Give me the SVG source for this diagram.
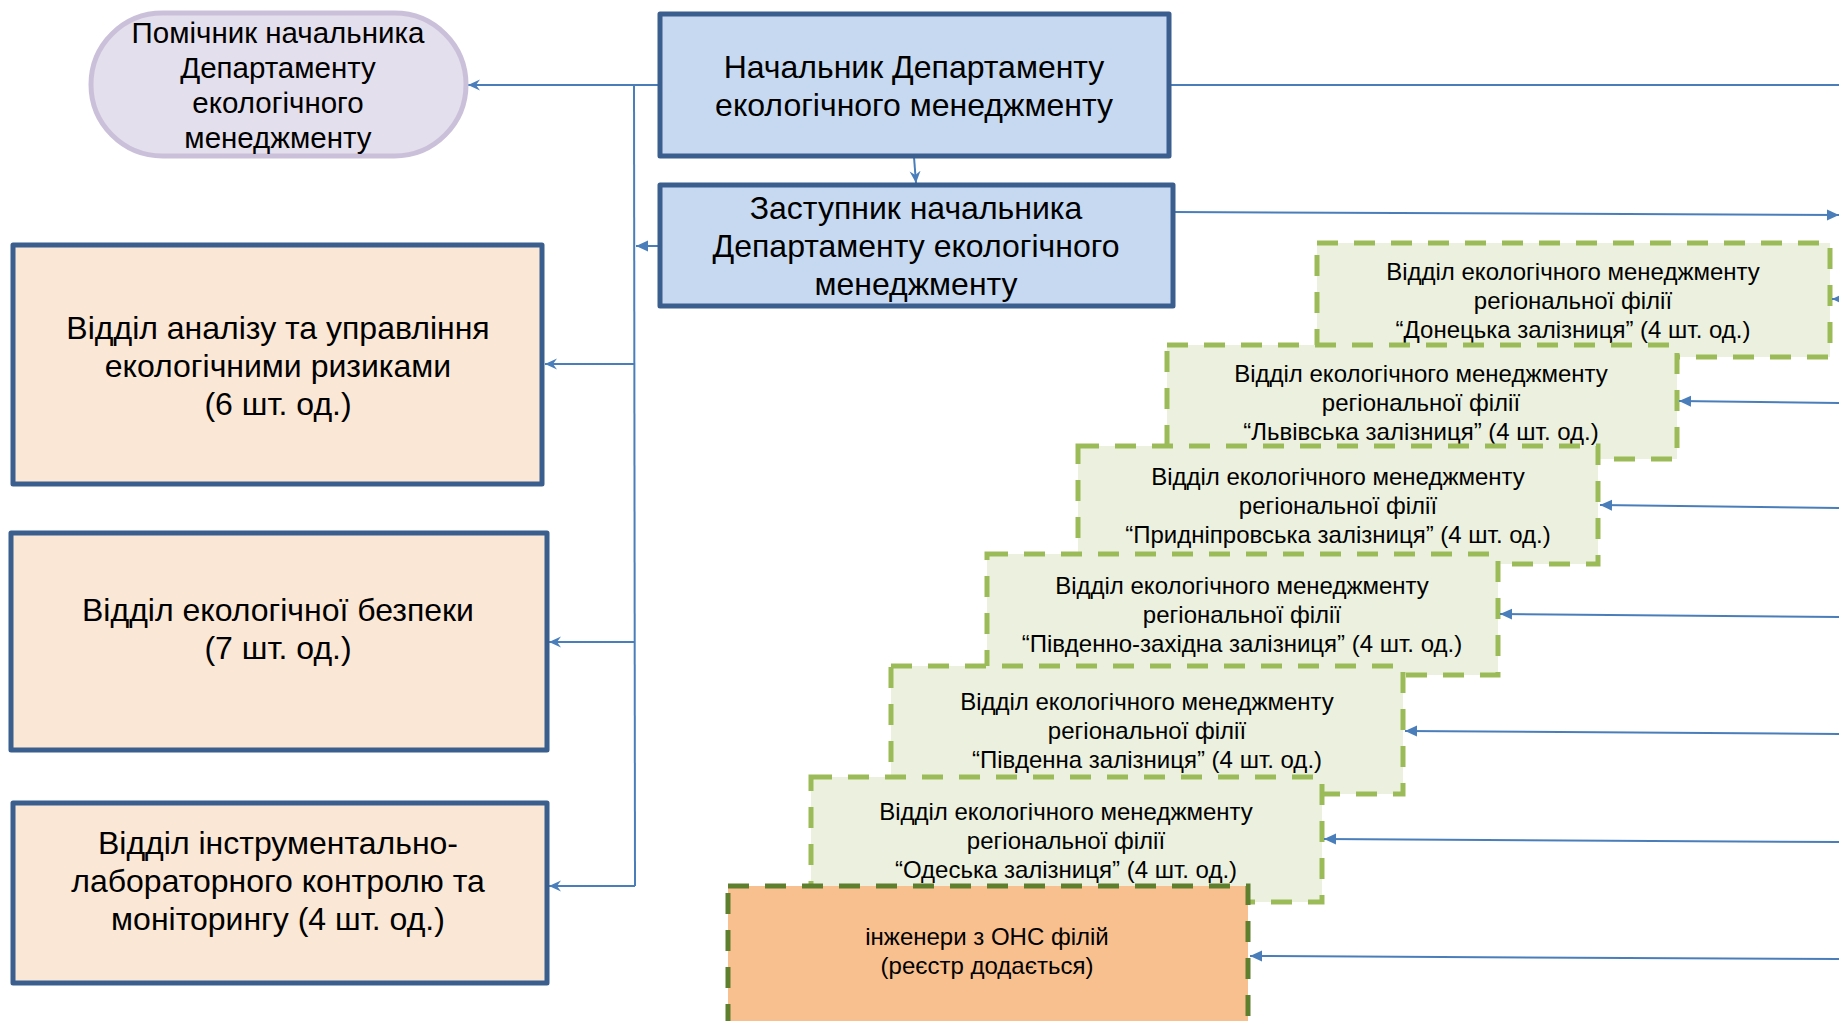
<svg xmlns="http://www.w3.org/2000/svg" width="1839" height="1021" viewBox="0 0 1839 1021">
<style>
text{font-family:"Liberation Sans",Arial,sans-serif;fill:#000;text-anchor:middle}
.big{font-size:32px}
.st{font-size:29.5px}
.sm{font-size:24px}
.blue{fill:#c6d9f1;stroke:#3a5f8e;stroke-width:5;stroke-linejoin:round}
.peach{fill:#fbe7d6;stroke:#3a5f8e;stroke-width:5;stroke-linejoin:round}
.green{fill:#ebf1de;stroke:#9bbb59;stroke-width:5;stroke-dasharray:21 16}
.eng{fill:#f8bf8f;stroke:#5e7f2e;stroke-width:5;stroke-dasharray:21 16}
.stad{fill:#e4dfec;stroke:#cbc0da;stroke-width:5}
.ln{fill:none;stroke:#4a7ebb;stroke-width:2}
</style>
<defs>
<marker id="tri" markerUnits="userSpaceOnUse" markerWidth="14" markerHeight="12" refX="12" refY="6" orient="auto">
<path d="M0,0.5 L12,6 L0,11.5 z" fill="#4a7ebb"/>
</marker>
<marker id="stl" markerUnits="userSpaceOnUse" markerWidth="14" markerHeight="12" refX="12" refY="6" orient="auto">
<path d="M0,0.5 L12,6 L0,11.5 L4,6 z" fill="#4a7ebb"/>
</marker>
</defs>

<g id="connectors">
<line class="ln" x1="660" y1="85" x2="468" y2="85" marker-end="url(#stl)"/>
<line class="ln" x1="634" y1="85" x2="635" y2="886"/>
<line class="ln" x1="660" y1="246" x2="636" y2="246" marker-end="url(#tri)"/>
<line class="ln" x1="634" y1="364" x2="545" y2="364" marker-end="url(#stl)"/>
<line class="ln" x1="635" y1="642" x2="549" y2="642" marker-end="url(#stl)"/>
<line class="ln" x1="635" y1="886" x2="549" y2="886" marker-end="url(#stl)"/>
<line class="ln" x1="914" y1="157" x2="916" y2="183" marker-end="url(#stl)"/>
<line class="ln" x1="1169" y1="85" x2="1839" y2="85"/>
<line class="ln" x1="1173" y1="212" x2="1839" y2="215" marker-end="url(#tri)"/>
</g>

<g id="node-assistant">
<rect class="stad" x="91" y="13" width="375" height="143" rx="71.5" ry="71.5"/>
<text class="st"><tspan x="278" y="43">Помічник начальника</tspan><tspan x="278" y="78">Департаменту</tspan><tspan x="278" y="113">екологічного</tspan><tspan x="278" y="148">менеджменту</tspan></text>
</g>

<g id="node-head">
<rect class="blue" x="660" y="14" width="509" height="142"/>
<text class="big"><tspan x="914" y="78">Начальник Департаменту</tspan><tspan x="914" y="116">екологічного менеджменту</tspan></text>
</g>

<g id="node-deputy">
<rect class="blue" x="660" y="185" width="513" height="121"/>
<text class="big"><tspan x="916" y="219">Заступник начальника</tspan><tspan x="916" y="257">Департаменту екологічного</tspan><tspan x="916" y="295">менеджменту</tspan></text>
</g>

<g id="node-analysis">
<rect class="peach" x="13" y="245" width="529" height="239"/>
<text class="big"><tspan x="278" y="339">Відділ аналізу та управління</tspan><tspan x="278" y="377">екологічними ризиками</tspan><tspan x="278" y="415">(6 шт. од.)</tspan></text>
</g>

<g id="node-safety">
<rect class="peach" x="11" y="533" width="536" height="217"/>
<text class="big"><tspan x="278" y="621">Відділ екологічної безпеки</tspan><tspan x="278" y="659">(7 шт. од.)</tspan></text>
</g>

<g id="node-lab">
<rect class="peach" x="13" y="803" width="534" height="180"/>
<text class="big"><tspan x="278" y="854">Відділ інструментально-</tspan><tspan x="278" y="892">лабораторного контролю та</tspan><tspan x="278" y="930">моніторингу (4 шт. од.)</tspan></text>
</g>

<g id="node-donetsk">
<rect class="green" x="1317" y="243" width="513" height="114"/>
<text class="sm"><tspan x="1573" y="280">Відділ екологічного менеджменту</tspan><tspan x="1573" y="309">регіональної філії</tspan><tspan x="1573" y="338">“Донецька залізниця” (4 шт. од.)</tspan></text>
</g>
<line class="ln" x1="1845" y1="299" x2="1832" y2="299" marker-end="url(#tri)"/>

<g id="node-lviv">
<rect class="green" x="1167" y="345" width="510" height="114"/>
<text class="sm"><tspan x="1421" y="382">Відділ екологічного менеджменту</tspan><tspan x="1421" y="411">регіональної філії</tspan><tspan x="1421" y="440">“Львівська залізниця” (4 шт. од.)</tspan></text>
</g>
<line class="ln" x1="1839" y1="403" x2="1679" y2="401" marker-end="url(#tri)"/>

<g id="node-prydniprovska">
<rect class="green" x="1078" y="446" width="520" height="118"/>
<text class="sm"><tspan x="1338" y="485">Відділ екологічного менеджменту</tspan><tspan x="1338" y="514">регіональної філії</tspan><tspan x="1338" y="543">“Придніпровська залізниця” (4 шт. од.)</tspan></text>
</g>
<line class="ln" x1="1839" y1="508" x2="1600" y2="505" marker-end="url(#tri)"/>

<g id="node-southwest">
<rect class="green" x="987" y="554" width="511" height="121"/>
<text class="sm"><tspan x="1242" y="594">Відділ екологічного менеджменту</tspan><tspan x="1242" y="623">регіональної філії</tspan><tspan x="1242" y="652">“Південно-західна залізниця” (4 шт. од.)</tspan></text>
</g>
<line class="ln" x1="1839" y1="617" x2="1500" y2="614" marker-end="url(#tri)"/>

<g id="node-south">
<rect class="green" x="891" y="666" width="512" height="128"/>
<text class="sm"><tspan x="1147" y="710">Відділ екологічного менеджменту</tspan><tspan x="1147" y="739">регіональної філії</tspan><tspan x="1147" y="768">“Південна залізниця” (4 шт. од.)</tspan></text>
</g>
<line class="ln" x1="1839" y1="734" x2="1405" y2="731" marker-end="url(#tri)"/>

<g id="node-odesa">
<rect class="green" x="811" y="777" width="511" height="125"/>
<text class="sm"><tspan x="1066" y="820">Відділ екологічного менеджменту</tspan><tspan x="1066" y="849">регіональної філії</tspan><tspan x="1066" y="878">“Одеська залізниця” (4 шт. од.)</tspan></text>
</g>
<line class="ln" x1="1839" y1="842" x2="1324" y2="839" marker-end="url(#tri)"/>

<g id="node-engineers">
<rect class="eng" x="728" y="886" width="520" height="160"/>
<text class="sm"><tspan x="987" y="945">інженери з ОНС філій</tspan><tspan x="987" y="974">(реєстр додається)</tspan></text>
</g>
<line class="ln" x1="1839" y1="959" x2="1250" y2="956" marker-end="url(#tri)"/>
</svg>
